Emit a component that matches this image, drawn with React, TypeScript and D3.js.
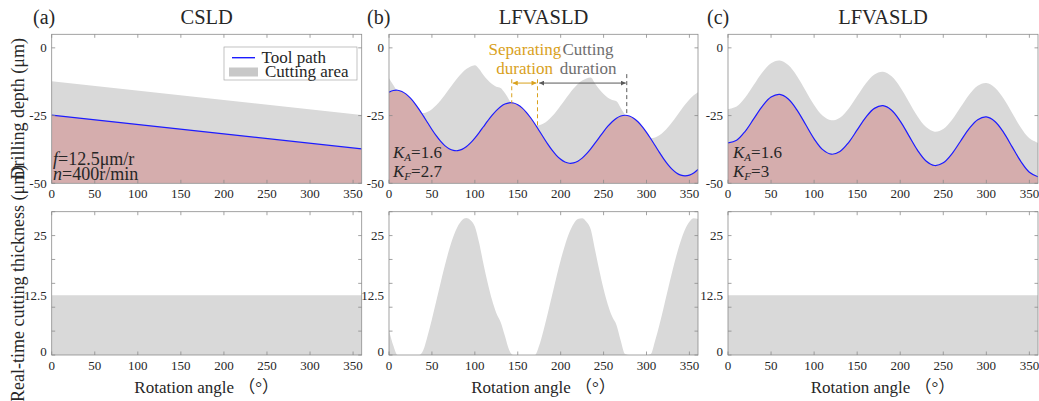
import * as d3 from 'd3';

// Drilling depth / cutting thickness comparison: CSLD vs two LFVASLD settings.

const FONT = "'Liberation Serif', 'Times New Roman', Tinos, 'DejaVu Serif', serif";
const CJK_FONT = "'Liberation Serif', 'Times New Roman', 'Noto Sans CJK SC', serif";

const RED = '#d5adad';
const GRAY = '#d9d9d9';
const BLUE = '#1c1cff';
const FRAME = '#8c8c8c';
const INK = '#262626';
const GOLD = '#d9a11c';
const DARK = '#5a5a5a';
const TICK = 3.5;

// ---- data -------------------------------------------------------------

const X_TICKS = [0, 50, 100, 150, 200, 250, 300, 350];
const DEPTH_TICKS = [0, -25, -50];
const THICK_TICKS = [0, 12.5, 25];
const THICK_MINOR = [0, 5, 10, 15, 20, 25, 30];

// (a) CSLD: straight feed
const ANGLES_FLAT = [0, 360];
const TOOL_A = [-24.8, -37.3];
const SURF_A = [-12.3, -24.8];
const THICK_A = [12.5, 12.5];

// (b) LFVASLD, KA=1.6, KF=2.7
const ANGLES_B = [
  0, 5, 10, 15, 20, 25, 30, 35, 40, 45,
  50, 55, 60, 65, 70, 75, 80, 85, 90, 95,
  100, 105, 110, 115, 120, 125, 130, 135, 140, 145,
  150, 155, 160, 165, 170, 175, 180, 185, 190, 195,
  200, 205, 210, 215, 220, 225, 230, 235, 240, 245,
  250, 255, 260, 265, 270, 275, 280, 285, 290, 295,
  300, 305, 310, 315, 320, 325, 330, 335, 340, 345,
  350, 355, 360,
];
const TOOL_B = [
  -16.39, -15.75, -15.65, -16.10, -17.08, -18.57, -20.46, -22.69, -25.13, -27.64,
  -30.13, -32.43, -34.45, -36.09, -37.24, -37.87, -37.96, -37.49, -36.51, -35.09,
  -33.31, -31.28, -29.12, -26.96, -24.93, -23.15, -21.72, -20.75, -20.28, -20.36,
  -21.00, -22.15, -23.79, -25.81, -28.11, -30.60, -33.11, -35.55, -37.78, -39.67,
  -41.15, -42.14, -42.59, -42.49, -41.85, -40.71, -39.17, -37.29, -35.19, -33.03,
  -30.89, -28.93, -27.26, -25.97, -25.16, -24.88, -25.14, -25.96, -27.28, -29.05,
  -31.18, -33.56, -36.06, -38.57, -40.95, -43.07, -44.85, -46.17, -46.99, -47.25,
  -46.96, -46.16, -44.87,
];
const SURF_B = [
  -11.24, -13.75, -16.24, -18.54, -20.56, -22.20, -23.35, -23.99, -24.07, -23.60,
  -22.63, -21.20, -19.42, -17.39, -15.23, -13.07, -11.04, -9.26, -7.83, -6.86,
  -6.39, -7.78, -10.00, -11.89, -13.38, -14.36, -14.81, -16.71, -19.22, -21.66,
  -23.89, -25.78, -27.27, -28.25, -28.70, -28.60, -27.96, -26.82, -25.28, -23.40,
  -21.30, -19.14, -17.00, -15.05, -13.37, -12.08, -11.28, -10.99, -13.17, -15.30,
  -17.07, -18.39, -19.21, -19.67, -22.17, -24.68, -27.06, -29.19, -30.96, -32.28,
  -33.10, -33.36, -33.07, -32.27, -30.98, -29.30, -27.35, -25.21, -23.05, -20.95,
  -19.07, -17.53, -16.39,
];
const THICK_B = [
  5.15, 2.00, 0, 0, 0, 0, 0, 0, 1.06, 4.04,
  7.50, 11.23, 15.03, 18.70, 22.01, 24.80, 26.92, 28.23, 28.68, 28.23,
  26.92, 23.50, 19.12, 15.07, 11.55, 8.79, 6.91, 4.04, 1.06, 0,
  0, 0, 0, 0, 0, 2.00, 5.15, 8.73, 12.50, 16.27,
  19.85, 23.00, 25.59, 27.44, 28.48, 28.63, 27.89, 26.30, 22.02, 17.73,
  13.82, 10.54, 8.05, 6.30, 2.99, 0.20, 0, 0, 0, 0,
  0, 0.20, 2.99, 6.30, 9.97, 13.77, 17.50, 20.96, 23.94, 26.30,
  27.89, 28.63, 28.48,
];

// (c) LFVASLD, KA=1.6, KF=3
const ANGLES_C = [
  0, 10, 20, 30, 40, 50, 60, 70, 80, 90,
  100, 110, 120, 130, 140, 150, 160, 170, 180, 190,
  200, 210, 220, 230, 240, 250, 260, 270, 280, 290,
  300, 310, 320, 330, 340, 350, 360,
];
const TOOL_C = [
  -35.10, -34.11, -30.79, -26.14, -21.49, -18.18, -17.18, -18.87, -22.88, -28.22,
  -33.57, -37.58, -39.26, -38.27, -34.96, -30.31, -25.65, -22.34, -21.35, -23.03,
  -27.04, -32.39, -37.73, -41.74, -43.43, -42.44, -39.12, -34.47, -29.82, -26.50,
  -25.51, -27.20, -31.20, -36.55, -41.90, -45.91, -47.59,
];
const SURF_C = [
  -22.60, -21.61, -18.29, -13.64, -8.99, -5.68, -4.68, -6.37, -10.38, -15.72,
  -21.07, -25.08, -26.76, -25.77, -22.46, -17.81, -13.15, -9.84, -8.85, -10.53,
  -14.54, -19.89, -25.23, -29.24, -30.93, -29.94, -26.62, -21.97, -17.32, -14.00,
  -13.01, -14.70, -18.70, -24.05, -29.40, -33.41, -35.09,
];
const THICK_C = [12.5, 12.5];

// annotation on (b), in data units
const SEP_START = 143;
const SEP_END = 173;
const CUT_START = 175;
const CUT_END = 277;
const ARROW_DEPTH = -13;

// ---- layout -----------------------------------------------------------

const DEPTH_Y = d3.scaleLinear().domain([-50, 5]).range([183.3, 34.3]);
const THICK_Y = d3.scaleLinear().domain([0, 30]).range([355, 211.7]);

type Row = { a: number; t: number; s: number };

const PANELS = [
  {
    key: 'a', label: '(a)', title: 'CSLD', range: [51.7, 361.7], labelX: 33,
    angles: ANGLES_FLAT, tool: TOOL_A, surf: SURF_A,
    thickAngles: ANGLES_FLAT, thick: THICK_A,
    toolCurve: d3.curveLinear, surfCurve: d3.curveLinear,
  },
  {
    key: 'b', label: '(b)', title: 'LFVASLD', range: [389, 698], labelX: 367,
    angles: ANGLES_B, tool: TOOL_B, surf: SURF_B,
    thickAngles: ANGLES_B, thick: THICK_B,
    toolCurve: d3.curveCatmullRom, surfCurve: d3.curveMonotoneX,
  },
  {
    key: 'c', label: '(c)', title: 'LFVASLD', range: [728, 1038], labelX: 707,
    angles: ANGLES_C, tool: TOOL_C, surf: SURF_C,
    thickAngles: ANGLES_FLAT, thick: THICK_C,
    toolCurve: d3.curveCatmullRom, surfCurve: d3.curveCatmullRom,
  },
];

type Panel = (typeof PANELS)[number];

function Box({ x, y, yTicks, yMinor }: {
  x: d3.ScaleLinear<number, number>;
  y: d3.ScaleLinear<number, number>;
  yTicks: number[];
  yMinor: number[];
}) {
  const [x0, x1] = x.range();
  const [yb, yt] = y.range();
  return (
    <g>
      <rect x={x0} y={yt} width={x1 - x0} height={yb - yt} fill="none" stroke={FRAME} strokeWidth={0.8} />
      {X_TICKS.map((t) => (
        <g key={t} stroke={FRAME} strokeWidth={0.8}>
          <line x1={x(t)} x2={x(t)} y1={yb} y2={yb - TICK} />
          <line x1={x(t)} x2={x(t)} y1={yt} y2={yt + TICK} />
        </g>
      ))}
      {yMinor.map((t) => (
        <g key={t} stroke={FRAME} strokeWidth={0.8}>
          <line x1={x0} x2={x0 + TICK} y1={y(t)} y2={y(t)} />
          <line x1={x1} x2={x1 - TICK} y1={y(t)} y2={y(t)} />
        </g>
      ))}
      {X_TICKS.map((t) => (
        <text key={t} x={x(t)} y={yb + 15} textAnchor="middle" fontSize={13} fill={INK}>{t}</text>
      ))}
      {yTicks.map((t) => (
        <text key={t} x={x0 - 5} y={y(t) - (t === 0 && y === THICK_Y ? 4 : 0)} dy="0.35em"
          textAnchor="end" fontSize={13} fill={INK}>{t}</text>
      ))}
    </g>
  );
}

function DepthPlot({ p }: { p: Panel }) {
  const x = d3.scaleLinear().domain([0, 360]).range(p.range);
  const y = DEPTH_Y;
  const [yb, yt] = y.range();
  const rows: Row[] = p.angles.map((a, i) => ({ a, t: p.tool[i], s: p.surf[i] }));
  const gray = d3.area<Row>().x((d) => x(d.a)).y0(yb).y1((d) => y(d.s)).curve(p.surfCurve)(rows);
  const red = d3.area<Row>().x((d) => x(d.a)).y0(yb).y1((d) => y(d.t)).curve(p.toolCurve)(rows);
  const line = d3.line<Row>().x((d) => x(d.a)).y((d) => y(d.t)).curve(p.toolCurve)(rows);
  const [x0, x1] = p.range;
  return (
    <g>
      <clipPath id={`clip-d-${p.key}`}>
        <rect x={x0} y={yt} width={x1 - x0} height={yb - yt} />
      </clipPath>
      <g clipPath={`url(#clip-d-${p.key})`}>
        <path d={gray ?? ''} fill={GRAY} />
        <path d={red ?? ''} fill={RED} />
        <path d={line ?? ''} fill="none" stroke={BLUE} strokeWidth={1.2} />
      </g>
      <Box x={x} y={y} yTicks={DEPTH_TICKS} yMinor={DEPTH_TICKS} />
    </g>
  );
}

function ThickPlot({ p }: { p: Panel }) {
  const x = d3.scaleLinear().domain([0, 360]).range(p.range);
  const y = THICK_Y;
  const [yb, yt] = y.range();
  const rows = p.thickAngles.map((a, i) => ({ a, v: p.thick[i] }));
  const area = d3.area<{ a: number; v: number }>()
    .x((d) => x(d.a)).y0(yb).y1((d) => y(d.v)).curve(d3.curveMonotoneX)(rows);
  const [x0, x1] = p.range;
  return (
    <g>
      <clipPath id={`clip-t-${p.key}`}>
        <rect x={x0} y={yt} width={x1 - x0} height={yb - yt} />
      </clipPath>
      <path d={area ?? ''} fill={GRAY} clipPath={`url(#clip-t-${p.key})`} />
      <Box x={x} y={y} yTicks={THICK_TICKS} yMinor={THICK_MINOR} />
      <text x={(x0 + x1) / 2} y={393} textAnchor="middle" fontSize={17} fill={INK} style={{ fontFamily: CJK_FONT }}>
        Rotation angle （°）
      </text>
    </g>
  );
}

function Ks({ x, kf }: { x: number; kf: string }) {
  return (
    <g fontSize={17} fill={INK}>
      <text x={x} y={158}>
        <tspan fontStyle="italic">K</tspan>
        <tspan fontStyle="italic" fontSize={11} dy={3}>A</tspan>
        <tspan dy={-3}>=1.6</tspan>
      </text>
      <text x={x} y={177}>
        <tspan fontStyle="italic">K</tspan>
        <tspan fontStyle="italic" fontSize={11} dy={3}>F</tspan>
        <tspan dy={-3}>={kf}</tspan>
      </text>
    </g>
  );
}

function Annotation() {
  const x = d3.scaleLinear().domain([0, 360]).range(PANELS[1].range);
  const y = DEPTH_Y;
  const toolAt = (a: number) => {
    const i = d3.bisectLeft(ANGLES_B, a);
    const a0 = ANGLES_B[i - 1], a1 = ANGLES_B[i];
    const k = (a - a0) / (a1 - a0);
    return TOOL_B[i - 1] + k * (TOOL_B[i] - TOOL_B[i - 1]);
  };
  const ay = y(ARROW_DEPTH);
  return (
    <g fontSize={17}>
      <defs>
        <marker id="head-gold" viewBox="0 0 10 10" refX="10" refY="5" markerWidth="5" markerHeight="5"
          orient="auto-start-reverse">
          <path d="M0,0L10,5L0,10z" fill={GOLD} />
        </marker>
        <marker id="head-dark" viewBox="0 0 10 10" refX="10" refY="5" markerWidth="5" markerHeight="5"
          orient="auto-start-reverse">
          <path d="M0,0L10,5L0,10z" fill={DARK} />
        </marker>
      </defs>
      <line x1={x(SEP_START)} x2={x(SEP_START)} y1={y(-11.6)} y2={y(toolAt(SEP_START))}
        stroke={GOLD} strokeWidth={1} strokeDasharray="4,3" />
      <line x1={x(SEP_END)} x2={x(SEP_END)} y1={y(-11.6)} y2={y(toolAt(SEP_END))}
        stroke={GOLD} strokeWidth={1} strokeDasharray="4,3" />
      <line x1={x(CUT_END)} x2={x(CUT_END)} y1={y(-9.7)} y2={y(toolAt(CUT_END))}
        stroke={DARK} strokeWidth={1} strokeDasharray="4,3" />
      <line x1={x(SEP_START) + 1} x2={x(SEP_END) - 1} y1={ay} y2={ay} stroke={GOLD} strokeWidth={1}
        markerStart="url(#head-gold)" markerEnd="url(#head-gold)" />
      <line x1={x(CUT_START)} x2={x(CUT_END) - 1} y1={ay} y2={ay} stroke={DARK} strokeWidth={1}
        markerStart="url(#head-dark)" markerEnd="url(#head-dark)" />
      <text x={x(158.4)} y={y(-2.7)} textAnchor="middle" fill={GOLD}>Separating</text>
      <text x={x(158)} y={y(-9.7)} textAnchor="middle" fill={GOLD}>duration</text>
      <text x={x(231.8)} y={y(-2.7)} textAnchor="middle" fill="#6e6e6e">Cutting</text>
      <text x={x(232)} y={y(-9.7)} textAnchor="middle" fill="#6e6e6e">duration</text>
    </g>
  );
}

export default function App() {
  return (
    <svg width={1039} height={401}
      style={{ position: 'absolute', left: 0, top: 0, background: '#fff', fontFamily: FONT }}>
      {PANELS.map((p) => (
        <g key={p.key}>
          <text x={p.labelX} y={24} fontSize={20} fill={INK}>{p.label}</text>
          <text x={(p.range[0] + p.range[1]) / 2} y={24} fontSize={20.5} textAnchor="middle" fill={INK}>{p.title}</text>
          <DepthPlot p={p} />
          <ThickPlot p={p} />
        </g>
      ))}

      {/* legend in (a) */}
      <g fontSize={17} fill={INK}>
        <rect x={224} y={47} width={133} height={33} fill="#fff" stroke="#a8a8a8" strokeWidth={0.7} />
        <line x1={232} x2={255} y1={57.7} y2={57.7} stroke={BLUE} strokeWidth={1.4} />
        <rect x={229} y={67.5} width={29} height={9} fill="#c8c8c8" />
        <text x={261.5} y={62.5}>Tool path</text>
        <text x={265} y={77}>Cutting area</text>
      </g>

      <g fontSize={18} fill={INK}>
        <text x={53} y={165}><tspan fontStyle="italic">f</tspan>=12.5μm/r</text>
        <text x={53} y={180}><tspan fontStyle="italic">n</tspan>=400r/min</text>
      </g>
      <Ks x={393} kf="2.7" />
      <Ks x={733} kf="3" />
      <Annotation />

      <g fontSize={18} fill={INK} textAnchor="middle">
        <text transform={`translate(24,${(DEPTH_Y.range()[0] + DEPTH_Y.range()[1]) / 2}) rotate(-90)`}>
          Drilling depth (μm)
        </text>
        <text transform={`translate(24,${(THICK_Y.range()[0] + THICK_Y.range()[1]) / 2}) rotate(-90)`}>
          Real-time cutting thickness (μm)
        </text>
      </g>
    </svg>
  );
}
